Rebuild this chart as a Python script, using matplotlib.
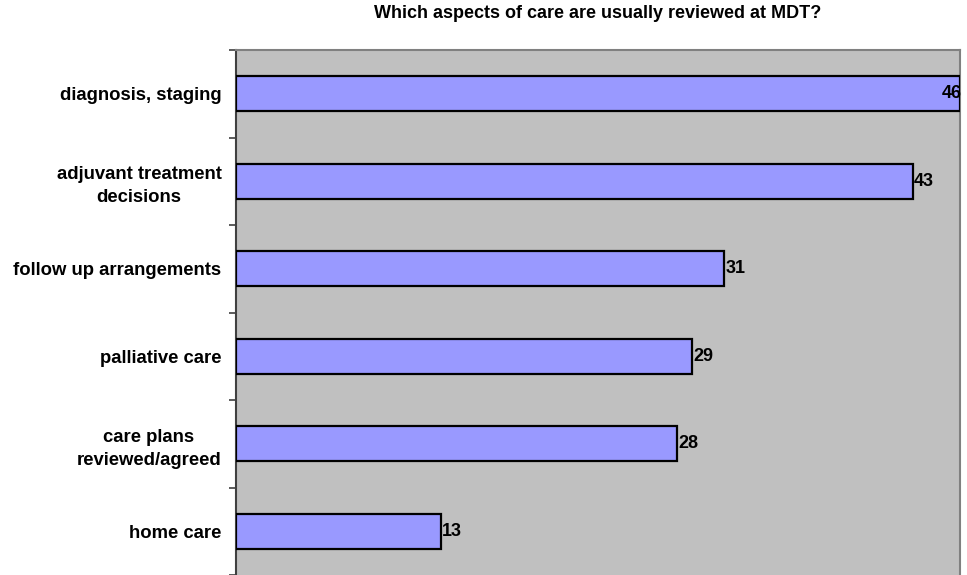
import matplotlib.pyplot as plt
import numpy as np

plt.rcParams['font.family'] = ['Liberation Sans', 'DejaVu Sans']

# 数据
aspects = ['diagnosis, staging', 'adjuvant treatment\ndecisions', 'follow up arrangements',
           'palliative care', 'care plans\nreviewed/agreed', 'home care']
counts = [46, 43, 31, 29, 28, 13]

fig = plt.figure(figsize=(9.67, 5.75), dpi=100)
ax = fig.add_axes([236 / 967, 0.0, 724 / 967, 1 - 50 / 575])
ax.set_facecolor('#C0C0C0')

y = np.arange(len(aspects))
ax.barh(y, counts, height=0.4, color='#9999FF', edgecolor='black', linewidth=1.6, zorder=3)

ax.set_xlim(0, 46)
ax.set_ylim(len(aspects) - 0.5, -0.5)

# 类别标签放在中心，刻度线放在分界处
ax.set_yticks(y)
ax.set_yticklabels(aspects, fontweight='bold', fontsize=13.3, multialignment='center', linespacing=1.45)
ax.tick_params(axis='y', which='major', length=0, pad=10.5)
ax.set_yticks(np.arange(-0.5, len(aspects), 1), minor=True)
ax.tick_params(axis='y', which='minor', length=5, width=1.2, color='#404040')
ax.xaxis.set_visible(False)

for side in ['top', 'right']:
    ax.spines[side].set_color('#808080')
    ax.spines[side].set_linewidth(1.5)
ax.spines['left'].set_color('#404040')
ax.spines['left'].set_linewidth(1.5)
ax.spines['bottom'].set_visible(False)

# 数值标注
for i, v in enumerate(counts):
    if v >= ax.get_xlim()[1]:
        ax.text(v + 0.1, i, str(v), ha='right', va='center', fontweight='bold', fontsize=13, zorder=4, clip_on=False)
    else:
        ax.text(v + 0.08, i, str(v), ha='left', va='center', fontweight='bold', fontsize=13, zorder=4)

fig.text(598 / 967, 1 - 13 / 575, 'Which aspects of care are usually reviewed at MDT?',
         ha='center', va='center', fontweight='bold', fontsize=13)

plt.savefig('out.png', dpi=100)
